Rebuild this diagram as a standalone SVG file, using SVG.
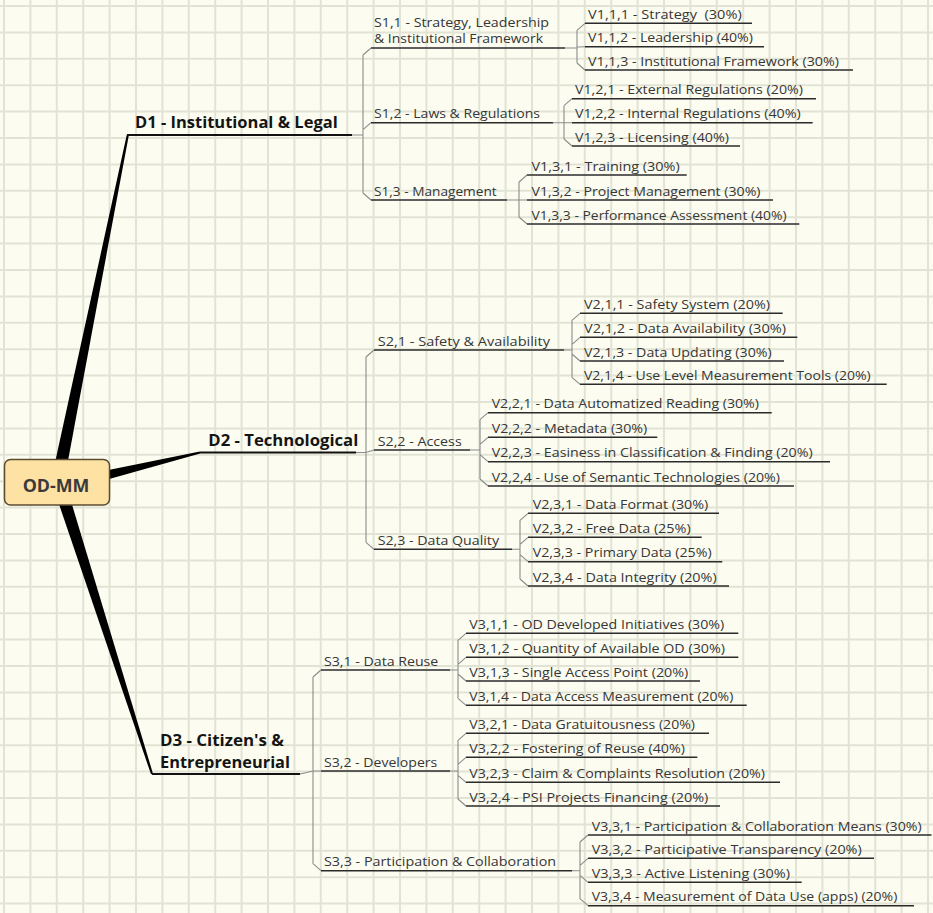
<svg xmlns="http://www.w3.org/2000/svg" width="933" height="913" viewBox="0 0 933 913">
<style>
.bg{fill:#fcfcf1}
.grid{stroke:#e1e4d4;stroke-width:2;fill:none}
.t{font-family:"Open Sans","DejaVu Sans",sans-serif;font-size:13.5px;fill:#363636}
.d{font-family:"Open Sans","DejaVu Sans",sans-serif;font-size:16.5px;font-weight:bold;fill:#141414}
.d3{font-size:15.5px}
.r{font-family:"Open Sans","DejaVu Sans",sans-serif;font-size:18px;font-weight:bold;fill:#3a3a3a}
.ul{stroke:#2b2b2b;stroke-width:1.4}
.dul{stroke:#111;stroke-width:2}
.con{stroke:#8c8c8c;stroke-width:1.1;fill:none}
.wedge{fill:#000}
</style>
<rect class="bg" x="0" y="0" width="933" height="913"/>
<path class="grid" d="M4 0V913M30.4 0V913M56.8 0V913M83.2 0V913M109.6 0V913M136 0V913M162.4 0V913M188.8 0V913M215.2 0V913M241.6 0V913M268 0V913M294.4 0V913M320.8 0V913M347.2 0V913M373.6 0V913M400 0V913M426.4 0V913M452.8 0V913M479.2 0V913M505.6 0V913M532 0V913M558.4 0V913M584.8 0V913M611.2 0V913M637.6 0V913M664 0V913M690.4 0V913M716.8 0V913M743.2 0V913M769.6 0V913M796 0V913M822.4 0V913M848.8 0V913M875.2 0V913M901.6 0V913M928 0V913M0 6H933M0 32.4H933M0 58.8H933M0 85.2H933M0 111.6H933M0 138H933M0 164.4H933M0 190.8H933M0 217.2H933M0 243.6H933M0 270H933M0 296.4H933M0 322.8H933M0 349.2H933M0 375.6H933M0 402H933M0 428.4H933M0 454.8H933M0 481.2H933M0 507.6H933M0 534H933M0 560.4H933M0 586.8H933M0 613.2H933M0 639.6H933M0 666H933M0 692.4H933M0 718.8H933M0 745.2H933M0 771.6H933M0 798H933M0 824.4H933M0 850.8H933M0 877.2H933M0 903.6H933"/>

<g id="connectors">
  <polygon class="wedge" points="50.6,482.8 63.4,485.2 128.8,135.2 126.8,134.7"/>
  <polygon class="wedge" points="55.6,480.7 58.4,493.3 200.2,453.5 199.8,451.5"/>
  <polygon class="wedge" points="52.8,486 65.2,482 153,773.7 151,774.3"/>
  <path class="con" d="M352 135H363M363 55V193M363 55L371 48M363 129.7L371 122.7M363 193L371 200"/>
  <path class="con" d="M565 48H577M577 30.3V63M577 30.3L585 23.3M577 47L585 46.7M577 63L585 70"/>
  <path class="con" d="M553 122.7H572M564 105.7V139M564 105.7L572 98.7M564 139L572 146"/>
  <path class="con" d="M507 200H527M519 182V217M519 182L527 175M519 217L527 224"/>
  <path class="con" d="M356 452.5H366L374 450M366 357V542.3M366 357L374 350M366 542.3L374 549.3"/>
  <path class="con" d="M564 350H572M572 320.3V377.3M572 320.3L580 313.3M572 344.3L580 337.3M572 354L580 361M572 377.3L580 384.3"/>
  <path class="con" d="M470 450H480M480 419.7V479M480 419.7L488 412.7M480 444.3L488 437.3M480 454.7L488 461.7M480 479L488 486"/>
  <path class="con" d="M512 549.3H520M520 520.3V579M520 520.3L528 513.3M520 544.3L528 537.3M520 554.7L528 561.7M520 579L528 586"/>
  <path class="con" d="M300 774L313 771H321M313 677V863.7M313 677L321 670M313 863.7L321 870.7"/>
  <path class="con" d="M450 670H458M458 640.3V698.3M458 640.3L466 633.3M458 664.3L466 657.3M458 674L466 681M458 698.3L466 705.3"/>
  <path class="con" d="M450 771H458M458 740.3V799M458 740.3L466 733.3M458 764.3L466 757.3M458 775.3L466 782.3M458 799L466 806"/>
  <path class="con" d="M572 870.7H580M580 842V898.7M580 842L588 835M580 865.3L588 858.3M580 875.3L588 882.3M580 898.7L588 905.7"/>
</g>

<g id="root">
  <rect x="4.5" y="459.5" width="105" height="45.5" rx="6" fill="#fde2a4" stroke="#5b4c30" stroke-width="1.5"/>
  <text class="r" x="22.7" y="491.7" textLength="66.7" lengthAdjust="spacingAndGlyphs">OD-MM</text>
</g>

<g id="d1"><text class="d" x="135" y="128.3" textLength="202.7" lengthAdjust="spacingAndGlyphs">D1 - Institutional &amp; Legal</text><line class="dul" x1="127" y1="135" x2="352" y2="135"/></g>
<g id="d2"><text class="d" x="208.3" y="445.7" textLength="150" lengthAdjust="spacingAndGlyphs">D2 - Technological</text><line class="dul" x1="200" y1="452.5" x2="356" y2="452.5"/></g>
<g id="d3"><text class="d d3" x="160" y="746" textLength="124" lengthAdjust="spacingAndGlyphs">D3 - Citizen's &amp;</text><text class="d d3" x="160" y="767.5" textLength="130" lengthAdjust="spacingAndGlyphs">Entrepreneurial</text><line class="dul" x1="152" y1="774" x2="300" y2="774"/></g>

<g id="s11"><text class="t" x="374" y="26.5" textLength="175" lengthAdjust="spacingAndGlyphs">S1,1 - Strategy, Leadership</text><text class="t" x="374" y="42.7" textLength="169" lengthAdjust="spacingAndGlyphs">&amp; Institutional Framework</text><line class="ul" x1="371" y1="48" x2="565" y2="48"/></g>
<g id="s12"><text class="t" x="374" y="118.3" textLength="166" lengthAdjust="spacingAndGlyphs">S1,2 - Laws &amp; Regulations</text><line class="ul" x1="371" y1="122.7" x2="553" y2="122.7"/></g>
<g id="s13"><text class="t" x="374" y="195.7" textLength="122.7" lengthAdjust="spacingAndGlyphs">S1,3 - Management</text><line class="ul" x1="371" y1="200" x2="507" y2="200"/></g>
<g id="s21"><text class="t" x="377.7" y="345.7" textLength="172.3" lengthAdjust="spacingAndGlyphs">S2,1 - Safety &amp; Availability</text><line class="ul" x1="374" y1="350" x2="564" y2="350"/></g>
<g id="s22"><text class="t" x="377.7" y="445.5" textLength="84" lengthAdjust="spacingAndGlyphs">S2,2 - Access</text><line class="ul" x1="374" y1="450" x2="470" y2="450"/></g>
<g id="s23"><text class="t" x="377.7" y="545" textLength="121.3" lengthAdjust="spacingAndGlyphs">S2,3 - Data Quality</text><line class="ul" x1="374" y1="549.3" x2="512" y2="549.3"/></g>
<g id="s31"><text class="t" x="324" y="665.7" textLength="114.3" lengthAdjust="spacingAndGlyphs">S3,1 - Data Reuse</text><line class="ul" x1="321" y1="670" x2="450" y2="670"/></g>
<g id="s32"><text class="t" x="324" y="766.7" textLength="113.3" lengthAdjust="spacingAndGlyphs">S3,2 - Developers</text><line class="ul" x1="321" y1="771" x2="450" y2="771"/></g>
<g id="s33"><text class="t" x="324" y="866.3" textLength="232" lengthAdjust="spacingAndGlyphs">S3,3 - Participation &amp; Collaboration</text><line class="ul" x1="321" y1="870.7" x2="572" y2="870.7"/></g>

<g id="v111"><text class="t" x="588" y="19" textLength="153.7" lengthAdjust="spacingAndGlyphs" style="white-space:pre">V1,1,1 - Strategy  (30%)</text><line class="ul" x1="585" y1="23.3" x2="752" y2="23.3"/></g>
<g id="v112"><text class="t" x="588" y="42.4" textLength="165" lengthAdjust="spacingAndGlyphs">V1,1,2 - Leadership (40%)</text><line class="ul" x1="585" y1="46.7" x2="764" y2="46.7"/></g>
<g id="v113"><text class="t" x="588" y="65.7" textLength="251" lengthAdjust="spacingAndGlyphs">V1,1,3 - Institutional Framework (30%)</text><line class="ul" x1="585" y1="70" x2="853" y2="70"/></g>
<g id="v121"><text class="t" x="575" y="94.4" textLength="228" lengthAdjust="spacingAndGlyphs">V1,2,1 - External Regulations (20%)</text><line class="ul" x1="572" y1="98.7" x2="816" y2="98.7"/></g>
<g id="v122"><text class="t" x="575" y="118.4" textLength="225.7" lengthAdjust="spacingAndGlyphs">V1,2,2 - Internal Regulations (40%)</text><line class="ul" x1="572" y1="122.7" x2="812.7" y2="122.7"/></g>
<g id="v123"><text class="t" x="575" y="141.7" textLength="154" lengthAdjust="spacingAndGlyphs">V1,2,3 - Licensing (40%)</text><line class="ul" x1="572" y1="146" x2="740" y2="146"/></g>
<g id="v131"><text class="t" x="531.5" y="170.7" textLength="148.3" lengthAdjust="spacingAndGlyphs">V1,3,1 - Training (30%)</text><line class="ul" x1="527" y1="175" x2="686.7" y2="175"/></g>
<g id="v132"><text class="t" x="531.5" y="195.7" textLength="229" lengthAdjust="spacingAndGlyphs">V1,3,2 - Project Management (30%)</text><line class="ul" x1="527" y1="200" x2="773" y2="200"/></g>
<g id="v133"><text class="t" x="531.5" y="219.7" textLength="255" lengthAdjust="spacingAndGlyphs">V1,3,3 - Performance Assessment (40%)</text><line class="ul" x1="527" y1="224" x2="799.3" y2="224"/></g>

<g id="v211"><text class="t" x="584" y="309" textLength="186" lengthAdjust="spacingAndGlyphs">V2,1,1 - Safety System (20%)</text><line class="ul" x1="580" y1="313.3" x2="782.7" y2="313.3"/></g>
<g id="v212"><text class="t" x="584" y="333" textLength="202" lengthAdjust="spacingAndGlyphs">V2,1,2 - Data Availability (30%)</text><line class="ul" x1="580" y1="337.3" x2="797.3" y2="337.3"/></g>
<g id="v213"><text class="t" x="584" y="356.7" textLength="187.7" lengthAdjust="spacingAndGlyphs">V2,1,3 - Data Updating (30%)</text><line class="ul" x1="580" y1="361" x2="784" y2="361"/></g>
<g id="v214"><text class="t" x="584" y="380" textLength="286.7" lengthAdjust="spacingAndGlyphs">V2,1,4 - Use Level Measurement Tools (20%)</text><line class="ul" x1="580" y1="384.3" x2="886.7" y2="384.3"/></g>
<g id="v221"><text class="t" x="491.7" y="408.4" textLength="267.3" lengthAdjust="spacingAndGlyphs">V2,2,1 - Data Automatized Reading (30%)</text><line class="ul" x1="488" y1="412.7" x2="771.7" y2="412.7"/></g>
<g id="v222"><text class="t" x="491.7" y="433" textLength="155.6" lengthAdjust="spacingAndGlyphs">V2,2,2 - Metadata (30%)</text><line class="ul" x1="488" y1="437.3" x2="657.3" y2="437.3"/></g>
<g id="v223"><text class="t" x="491.7" y="457.4" textLength="321" lengthAdjust="spacingAndGlyphs">V2,2,3 - Easiness in Classification &amp; Finding (20%)</text><line class="ul" x1="488" y1="461.7" x2="830" y2="461.7"/></g>
<g id="v224"><text class="t" x="491.7" y="481.7" textLength="288.3" lengthAdjust="spacingAndGlyphs">V2,2,4 - Use of Semantic Technologies (20%)</text><line class="ul" x1="488" y1="486" x2="794" y2="486"/></g>
<g id="v231"><text class="t" x="532.7" y="509" textLength="175.6" lengthAdjust="spacingAndGlyphs">V2,3,1 - Data Format (30%)</text><line class="ul" x1="528" y1="513.3" x2="719" y2="513.3"/></g>
<g id="v232"><text class="t" x="532.7" y="533" textLength="158" lengthAdjust="spacingAndGlyphs">V2,3,2 - Free Data (25%)</text><line class="ul" x1="528" y1="537.3" x2="701.7" y2="537.3"/></g>
<g id="v233"><text class="t" x="532.7" y="557.4" textLength="179" lengthAdjust="spacingAndGlyphs">V2,3,3 - Primary Data (25%)</text><line class="ul" x1="528" y1="561.7" x2="722.3" y2="561.7"/></g>
<g id="v234"><text class="t" x="532.7" y="581.7" textLength="184" lengthAdjust="spacingAndGlyphs">V2,3,4 - Data Integrity (20%)</text><line class="ul" x1="528" y1="586" x2="729" y2="586"/></g>

<g id="v311"><text class="t" x="469.3" y="629" textLength="255" lengthAdjust="spacingAndGlyphs">V3,1,1 - OD Developed Initiatives (30%)</text><line class="ul" x1="466" y1="633.3" x2="738.3" y2="633.3"/></g>
<g id="v312"><text class="t" x="469.3" y="653" textLength="255.7" lengthAdjust="spacingAndGlyphs">V3,1,2 - Quantity of Available OD (30%)</text><line class="ul" x1="466" y1="657.3" x2="738.3" y2="657.3"/></g>
<g id="v313"><text class="t" x="469.3" y="676.7" textLength="219" lengthAdjust="spacingAndGlyphs">V3,1,3 - Single Access Point (20%)</text><line class="ul" x1="466" y1="681" x2="700" y2="681"/></g>
<g id="v314"><text class="t" x="469.3" y="701" textLength="264" lengthAdjust="spacingAndGlyphs">V3,1,4 - Data Access Measurement (20%)</text><line class="ul" x1="466" y1="705.3" x2="746.7" y2="705.3"/></g>
<g id="v321"><text class="t" x="469.3" y="729" textLength="225.7" lengthAdjust="spacingAndGlyphs">V3,2,1 - Data Gratuitousness (20%)</text><line class="ul" x1="466" y1="733.3" x2="709" y2="733.3"/></g>
<g id="v322"><text class="t" x="469.3" y="753" textLength="215.7" lengthAdjust="spacingAndGlyphs">V3,2,2 - Fostering of Reuse (40%)</text><line class="ul" x1="466" y1="757.3" x2="697.3" y2="757.3"/></g>
<g id="v323"><text class="t" x="469.3" y="778" textLength="295.7" lengthAdjust="spacingAndGlyphs">V3,2,3 - Claim &amp; Complaints Resolution (20%)</text><line class="ul" x1="466" y1="782.3" x2="780" y2="782.3"/></g>
<g id="v324"><text class="t" x="469.3" y="801.7" textLength="239" lengthAdjust="spacingAndGlyphs">V3,2,4 - PSI Projects Financing (20%)</text><line class="ul" x1="466" y1="806" x2="720" y2="806"/></g>
<g id="v331"><text class="t" x="591.7" y="830.7" textLength="330" lengthAdjust="spacingAndGlyphs">V3,3,1 - Participation &amp; Collaboration Means (30%)</text><line class="ul" x1="588" y1="835" x2="931.5" y2="835"/></g>
<g id="v332"><text class="t" x="591.7" y="854" textLength="270" lengthAdjust="spacingAndGlyphs">V3,3,2 - Participative Transparency (20%)</text><line class="ul" x1="588" y1="858.3" x2="874" y2="858.3"/></g>
<g id="v333"><text class="t" x="591.7" y="878" textLength="198.3" lengthAdjust="spacingAndGlyphs">V3,3,3 - Active Listening (30%)</text><line class="ul" x1="588" y1="882.3" x2="801.7" y2="882.3"/></g>
<g id="v334"><text class="t" x="591.7" y="901.4" textLength="305.6" lengthAdjust="spacingAndGlyphs">V3,3,4 - Measurement of Data Use (apps) (20%)</text><line class="ul" x1="588" y1="905.7" x2="914" y2="905.7"/></g>
</svg>
